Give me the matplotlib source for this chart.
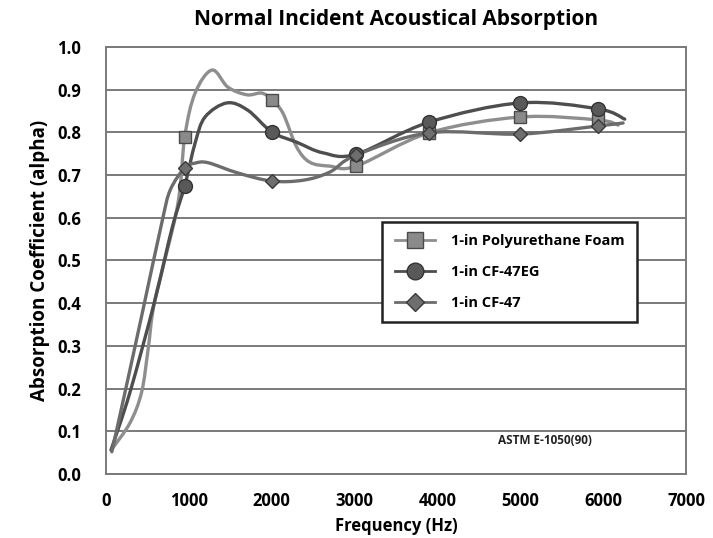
import numpy as np
import matplotlib
matplotlib.use('Agg')
import matplotlib.pyplot as plt
from matplotlib.path import Path
from matplotlib.patches import PathPatch
from matplotlib.lines import Line2D

plt.rcParams['font.family'] = ['Open Sans', 'DejaVu Sans']
plt.rcParams['font.weight'] = 'bold'

# marker points (Hz, alpha)
mark_f = [950, 2000, 3020, 3900, 5000, 5940]
foam_a = [0.790, 0.876, 0.721, 0.799, 0.836, 0.829]
eg_a = [0.675, 0.801, 0.749, 0.824, 0.869, 0.855]
cf_a = [0.717, 0.686, 0.747, 0.799, 0.796, 0.815]

# full curve points (including unmarked ones)
foam_f = [70, 290, 430, 510, 590, 860, 950, 1075, 1280, 1470, 1700, 1880, 2000,
          2135, 2300, 2460, 2700, 3020, 3900, 5000, 5940, 6180]
foam_c = [0.058, 0.12, 0.192, 0.295, 0.407, 0.625, 0.790, 0.892, 0.946, 0.906,
          0.888, 0.892, 0.876, 0.845, 0.766, 0.730, 0.721, 0.721, 0.799, 0.836,
          0.829, 0.817]
eg_f = [60, 290, 590, 800, 950, 1075, 1195, 1460, 1710, 2000, 2300, 2620,
        3020, 3900, 5000, 5940, 6260]
eg_c = [0.056, 0.192, 0.407, 0.578, 0.675, 0.775, 0.836, 0.869, 0.852,
        0.801, 0.777, 0.752, 0.749, 0.824, 0.869, 0.855, 0.831]
cf_f = [70, 230, 430, 675, 775, 950, 1075, 1230, 1590, 2000, 2380, 2700,
        3020, 3900, 5000, 5940, 6240]
cf_c = [0.052, 0.192, 0.37, 0.59, 0.665, 0.717, 0.728, 0.729, 0.705,
        0.686, 0.688, 0.707, 0.747, 0.799, 0.796, 0.815, 0.822]

labels = ['1-in Polyurethane Foam', '1-in CF-47EG', '1-in CF-47']
yticks = [0.0, 0.1, 0.2, 0.3, 0.4, 0.5, 0.6, 0.7, 0.8, 0.9, 1.0]
xticks = [0, 1000, 2000, 3000, 4000, 5000, 6000, 7000]


def smooth_path(x, y):
    # excel style smoothed line: bezier segments through the points
    p = np.column_stack([x, y]).astype(float)
    p = np.vstack([p[0], p, p[-1]])
    verts = [p[1]]
    codes = [Path.MOVETO]
    for i in range(1, len(p) - 2):
        c1 = p[i] + (p[i + 1] - p[i - 1]) / 6.0
        c2 = p[i + 1] - (p[i + 2] - p[i]) / 6.0
        verts += [c1, c2, p[i + 1]]
        codes += [Path.CURVE4] * 3
    return Path(verts, codes)


fig = plt.figure(figsize=(7.13, 5.38), dpi=100)
ax = fig.add_axes([0.1487, 0.119, 0.8135, 0.7937])

line_cols = ['#8e8e8e', '#4e4e4e', '#6c6c6c']
face_cols = ['#8a8a8a', '#595959', '#6e6e6e']
edge_cols = ['#4a4a4a', '#333333', '#3a3a3a']
markers = ['s', 'o', 'D']
msizes = [9, 10, 7]
curves = [(foam_f, foam_c, foam_a), (eg_f, eg_c, eg_a), (cf_f, cf_c, cf_a)]

handles = []
for k, (cf, cc, ma) in enumerate(curves):
    patch = PathPatch(smooth_path(cf, cc), facecolor='none', edgecolor=line_cols[k],
                      lw=2.4, capstyle='round', joinstyle='round', zorder=3 + k * 0.1)
    ax.add_patch(patch)
    ax.plot(mark_f, ma, linestyle='none', marker=markers[k], ms=msizes[k],
            mfc=face_cols[k], mec=edge_cols[k], mew=1.0, zorder=5)
    handles.append(Line2D([], [], color=line_cols[k], lw=2.0, marker=markers[k],
                          ms=msizes[k] + 2, mfc=face_cols[k], mec=edge_cols[k], mew=1.0))

ax.set_xlim(0, 7000)
ax.set_ylim(0, 1.0)
ax.set_xticks(xticks)
ax.set_yticks(yticks)
ax.set_xticklabels([str(v) for v in xticks])
ax.set_yticklabels(['%.1f' % v for v in yticks])
ax.tick_params(axis='both', length=0, labelsize=12)
ax.tick_params(axis='y', pad=18)
ax.tick_params(axis='x', pad=13)
ax.grid(axis='y', color='#7a7a7a', lw=1.4)
ax.set_axisbelow(True)
for s in ax.spines.values():
    s.set_color('#7a7a7a')
    s.set_linewidth(1.4)

ax.set_title('Normal Incident Acoustical Absorption', fontsize=15,
             fontweight='bold', pad=16)
ax.set_xlabel('Frequency (Hz)', fontsize=12, fontweight='bold', labelpad=5)
ax.set_ylabel('Absorption Coefficient (alpha)', fontsize=13.5, fontweight='bold',
              labelpad=5)

ax.text(5300, 0.078, 'ASTM E-1050(90)', fontsize=8.5, fontweight='bold',
        ha='center', va='center', color='#222222')

leg = ax.legend(handles, labels, loc='upper left', bbox_to_anchor=(0.476, 0.59),
                frameon=True, fancybox=False, fontsize=10.5, handlelength=2.8,
                borderpad=0.85, labelspacing=1.15, handletextpad=1.1,
                borderaxespad=0)
leg.get_frame().set_edgecolor('#222222')
leg.get_frame().set_linewidth(1.8)
leg.get_frame().set_alpha(1)
leg.set_zorder(10)

fig.savefig('out.png', dpi=100)
